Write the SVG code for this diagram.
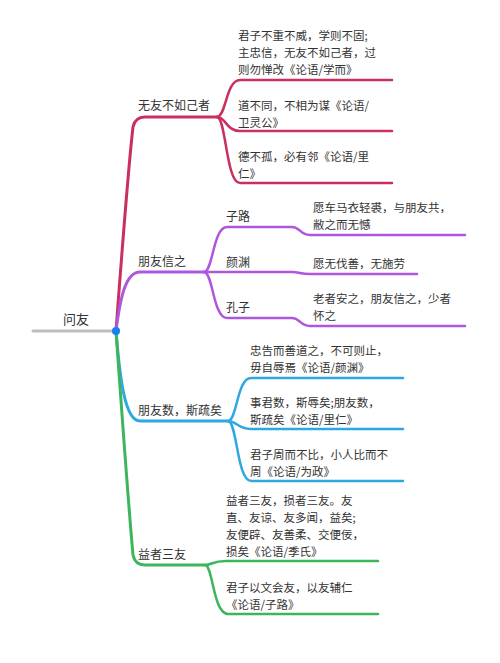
<svg xmlns="http://www.w3.org/2000/svg" width="500" height="663" viewBox="0 0 500 663">
<style>
text{font-family:"Noto Sans CJK SC","Noto Sans",sans-serif;font-size:12px;fill:#333}
text.t{font-size:11.5px}
.l{fill:none;stroke-linecap:round;stroke-linejoin:round}
.m{stroke-width:3}
.s{stroke-width:2.5}
.r{stroke:#c9305e}
.p{stroke:#ad57dc}
.b{stroke:#2ea8e0}
.g{stroke:#3cb65a}
</style>
<rect width="500" height="663" fill="#fff"/>
<g id="connectors">
<path class="l m" d="M33,331 H116" stroke="#bdbdbd"/>
<path class="l m r" d="M116,331 Q128,170 133,127 Q135,117 145,117 H217"/>
<path class="l m p" d="M116,331 C120,300 125,272 140,272 H204"/>
<path class="l m b" d="M116,331 C120,380 125,421 140,421 H228"/>
<path class="l m g" d="M116,331 Q128,500 133,555 Q135,565 145,565 H205"/>
<path class="l s r" d="M217,117 C226,117 226,80 240,80 H392"/>
<path class="l s r" d="M217,117 C226,117 226,131 240,131 H392"/>
<path class="l s r" d="M217,117 C226,117 226,183 240,183 H392"/>
<path class="l s p" d="M204,272 C213,272 213,227 227,227 H292 C300,227 300,235 310,235 H465"/>
<path class="l s p" d="M204,272 H292 C300,272 300,274 310,274 H417"/>
<path class="l s p" d="M204,272 C213,272 213,318 227,318 H292 C300,318 300,326 310,326 H465"/>
<path class="l s b" d="M228,421 C237,421 237,378 251,378 H403"/>
<path class="l s b" d="M228,421 C237,421 237,429 251,429 H403"/>
<path class="l s b" d="M228,421 C237,421 237,481 251,481 H403"/>
<path class="l s g" d="M205,565 C212,565 212,561 226,561 H378"/>
<path class="l s g" d="M205,565 C213,565 213,614 228,614 H378"/>
</g>
<g id="root"><text x="63" y="324" style="font-size:13px">问友</text><circle cx="116" cy="331" r="4" fill="#1a7ff0"/></g>
<g id="n1"><text x="138" y="110">无友不如己者</text></g>
<g id="n1a"><text class="t" x="238" y="40">君子不重不威，学则不固;<tspan x="238" dy="17">主忠信，无友不如己者，过</tspan><tspan x="238" dy="17">则勿惮改《论语/学而》</tspan></text></g>
<g id="n1b"><text class="t" x="238" y="110">道不同，不相为谋《论语/<tspan x="238" dy="17">卫灵公》</tspan></text></g>
<g id="n1c"><text class="t" x="238" y="161">德不孤，必有邻《论语/里<tspan x="238" dy="17">仁》</tspan></text></g>
<g id="n2"><text x="138" y="266">朋友信之</text></g>
<g id="n2a"><text x="226" y="221">子路</text></g>
<g id="n2a1"><text class="t" x="313" y="212">愿车马衣轻裘，与朋友共，<tspan x="313" dy="17">敝之而无憾</tspan></text></g>
<g id="n2b"><text x="226" y="267">颜渊</text></g>
<g id="n2b1"><text class="t" x="313" y="268">愿无伐善，无施劳</text></g>
<g id="n2c"><text x="226" y="312">孔子</text></g>
<g id="n2c1"><text class="t" x="313" y="303">老者安之，朋友信之，少者<tspan x="313" dy="17">怀之</tspan></text></g>
<g id="n3"><text x="138" y="415">朋友数，斯疏矣</text></g>
<g id="n3a"><text class="t" x="250" y="355">忠告而善道之，不可则止，<tspan x="250" dy="17">毋自辱焉《论语/颜渊》</tspan></text></g>
<g id="n3b"><text class="t" x="250" y="407">事君数，斯辱矣;朋友数，<tspan x="250" dy="17">斯疏矣《论语/里仁》</tspan></text></g>
<g id="n3c"><text class="t" x="250" y="459">君子周而不比，小人比而不<tspan x="250" dy="17">周《论语/为政》</tspan></text></g>
<g id="n4"><text x="138" y="559">益者三友</text></g>
<g id="n4a"><text class="t" x="226" y="505">益者三友，损者三友。友<tspan x="226" dy="17">直、友谅、友多闻，益矣;</tspan><tspan x="226" dy="17">友便辟、友善柔、交便佞，</tspan><tspan x="226" dy="17">损矣《论语/季氏》</tspan></text></g>
<g id="n4b"><text class="t" x="226" y="592">君子以文会友，以友辅仁<tspan x="226" dy="17">《论语/子路》</tspan></text></g>
</svg>
